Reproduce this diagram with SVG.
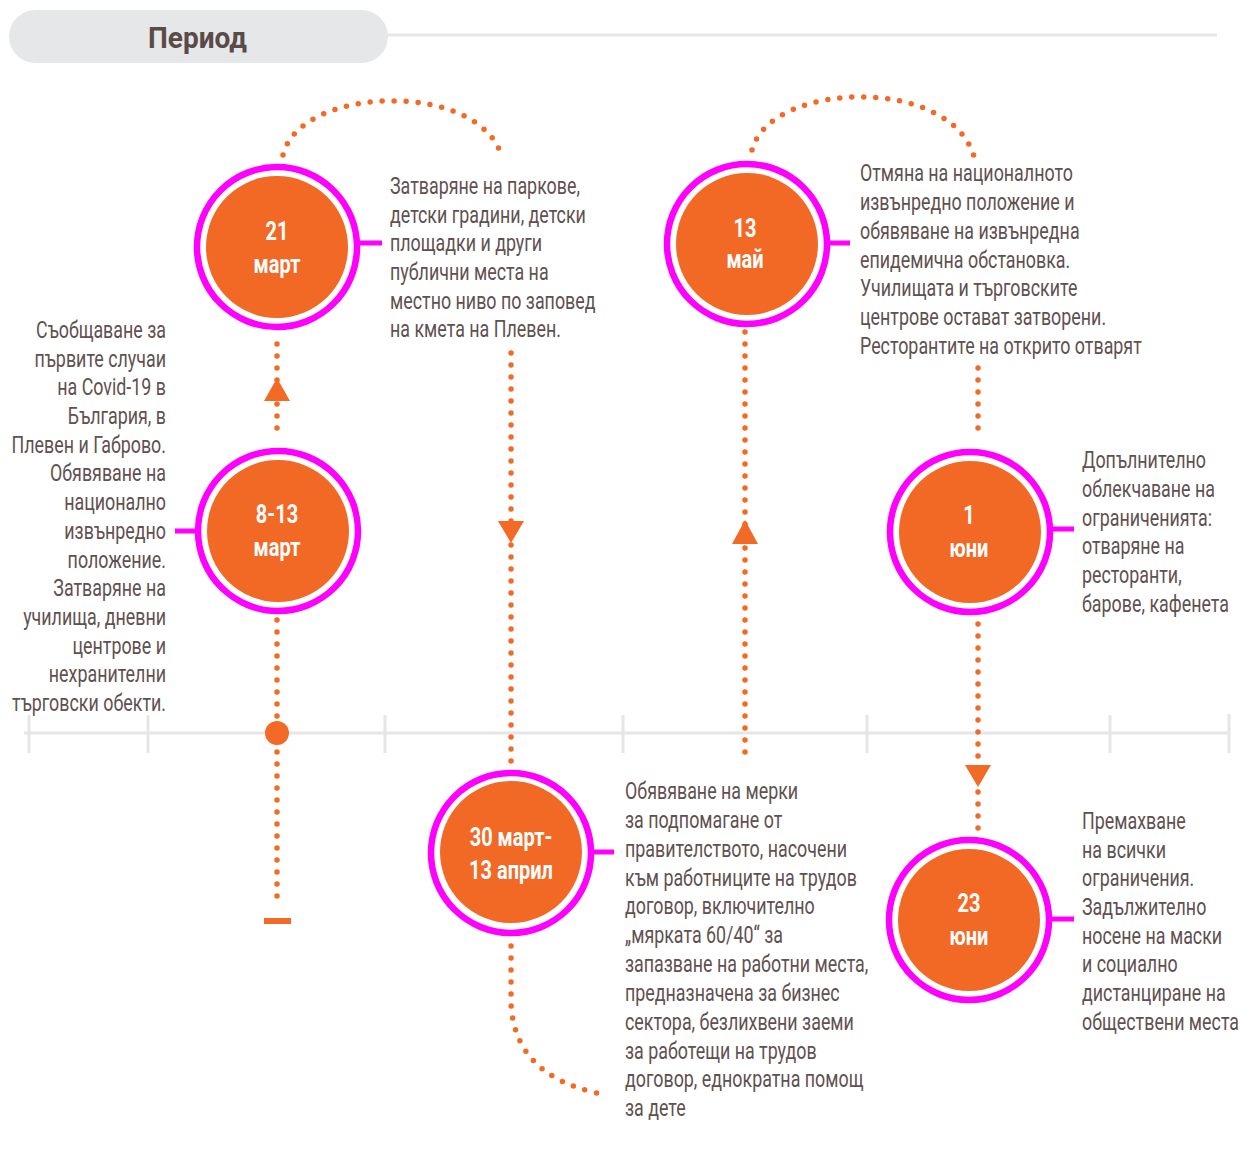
<svg xmlns="http://www.w3.org/2000/svg" width="1240" height="1149" viewBox="0 0 1240 1149">
<style>
.dot{fill:none;stroke:#f26a25;stroke-width:5.5;stroke-linecap:round;stroke-dasharray:0 12}
.ring{fill:#fff;stroke:#ff00ff;stroke-width:6.5}
.core{fill:#f26925}
.mag{stroke:#ff00ff;stroke-width:5;fill:none}
.arr{fill:#f26a25}
.axis{stroke:#e6e6e8;stroke-width:3;fill:none}
.lbl{font-family:Roboto,"Liberation Sans",sans-serif;font-weight:700;font-size:25px;fill:#fff;text-anchor:middle}
.txt{font-family:Roboto,"Liberation Sans",sans-serif;font-size:23.5px;fill:#5f5150}
.end{text-anchor:end}
</style>
<rect width="1240" height="1149" fill="#fff"/>
<g id="header">
<line class="axis" x1="380" y1="35" x2="1217" y2="35"/>
<rect x="9" y="10" width="379" height="53" rx="26.5" fill="#e6e7e8"/>
<text x="148" y="48" font-family="Roboto,'Liberation Sans',sans-serif" font-weight="700" font-size="30" fill="#5a4b48" textLength="99" lengthAdjust="spacingAndGlyphs">Период</text>
</g>
<g id="timeline-axis">
<line class="axis" x1="24" y1="733" x2="1230" y2="733"/>
<path class="axis" d="M29,715V753M148,715V753M385,715V753M623,715V753M867,715V753M1110,715V753M1229,714V753"/>
</g>
<g id="connectors">
<path class="dot" d="M277,344V440"/>
<path class="dot" d="M277,620V908"/>
<circle cx="277" cy="733" r="12" fill="#f26a25"/>
<rect x="264" y="918" width="27" height="6" fill="#f26a25"/>
<polygon class="arr" points="277,378 290,401 264,401"/>
<path class="dot" d="M283,155C300,85 480,80 502,157"/>
<path class="dot" d="M511,353V765"/>
<polygon class="arr" points="498,521 524,521 511,543"/>
<path class="dot" d="M511,946V1004Q515,1075 597,1093"/>
<path class="dot" d="M745,332V764"/>
<polygon class="arr" points="745,520 758,544 732,544"/>
<path class="dot" d="M752,150C770,80 955,75 975,160"/>
<path class="dot" d="M978,368V440"/>
<path class="dot" d="M978,624V836"/>
<polygon class="arr" points="965,765 991,765 978,787"/>
<line class="mag" x1="175" y1="531" x2="197" y2="531"/>
<line class="mag" x1="357" y1="243" x2="382" y2="243"/>
<line class="mag" x1="826" y1="243" x2="850" y2="243"/>
<line class="mag" x1="1050" y1="529" x2="1074" y2="529"/>
<line class="mag" x1="591" y1="852" x2="614" y2="852"/>
<line class="mag" x1="1048" y1="919" x2="1074" y2="919"/>
</g>
<g id="node-21-mart">
<circle class="ring" cx="277" cy="247" r="80"/>
<circle class="core" cx="277" cy="247" r="71"/>
<text class="lbl" transform="translate(277,240) scale(0.8,1)"><tspan x="0" y="0">21</tspan><tspan x="0" y="33">март</tspan></text>
</g>
<g id="node-8-13-mart">
<circle class="ring" cx="278" cy="531" r="80"/>
<circle class="core" cx="278" cy="531" r="71"/>
<text class="lbl" transform="translate(277,523) scale(0.8,1)"><tspan x="0" y="0">8-13</tspan><tspan x="0" y="33">март</tspan></text>
</g>
<g id="node-30-mart">
<circle class="ring" cx="511" cy="853" r="80"/>
<circle class="core" cx="511" cy="852" r="71"/>
<text class="lbl" transform="translate(511,846) scale(0.8,1)"><tspan x="0" y="0">30 март-</tspan><tspan x="0" y="33">13 април</tspan></text>
</g>
<g id="node-13-mai">
<circle class="ring" cx="747" cy="244" r="80"/>
<circle class="core" cx="747" cy="244" r="71"/>
<text class="lbl" transform="translate(745,237) scale(0.8,1)"><tspan x="0" y="0">13</tspan><tspan x="0" y="31">май</tspan></text>
</g>
<g id="node-1-yuni">
<circle class="ring" cx="970" cy="532" r="80"/>
<circle class="core" cx="970" cy="532" r="71"/>
<text class="lbl" transform="translate(969,524) scale(0.8,1)"><tspan x="0" y="0">1</tspan><tspan x="0" y="33">юни</tspan></text>
</g>
<g id="node-23-yuni">
<circle class="ring" cx="969" cy="920" r="80"/>
<circle class="core" cx="969" cy="920" r="71"/>
<text class="lbl" transform="translate(969,912) scale(0.8,1)"><tspan x="0" y="0">23</tspan><tspan x="0" y="33">юни</tspan></text>
</g>
<g id="text-8-13-mart" transform="translate(166,0) scale(0.76,1)">
<text class="txt end"><tspan x="0" y="338">Съобщаване за</tspan><tspan x="0" y="366.7">първите случаи</tspan><tspan x="0" y="395.4">на Covid-19 в</tspan><tspan x="0" y="424.1">България, в</tspan><tspan x="0" y="452.8">Плевен и Габрово.</tspan><tspan x="0" y="481.5">Обявяване на</tspan><tspan x="0" y="510.2">национално</tspan><tspan x="0" y="538.9">извънредно</tspan><tspan x="0" y="567.6">положение.</tspan><tspan x="0" y="596.3">Затваряне на</tspan><tspan x="0" y="625">училища, дневни</tspan><tspan x="0" y="653.7">центрове и</tspan><tspan x="0" y="682.4">нехранителни</tspan><tspan x="0" y="711.1">търговски обекти.</tspan></text>
</g>
<g id="text-21-mart" transform="translate(390,0) scale(0.76,1)">
<text class="txt"><tspan x="0" y="194">Затваряне на паркове,</tspan><tspan x="0" y="222.7">детски градини, детски</tspan><tspan x="0" y="251.4">площадки и други</tspan><tspan x="0" y="280.1">публични места на</tspan><tspan x="0" y="308.8">местно ниво по заповед</tspan><tspan x="0" y="337.5">на кмета на Плевен.</tspan></text>
</g>
<g id="text-13-mai" transform="translate(860,0) scale(0.76,1)">
<text class="txt"><tspan x="0" y="181.5">Отмяна на националното</tspan><tspan x="0" y="210.2">извънредно положение и</tspan><tspan x="0" y="238.9">обявяване на извънредна</tspan><tspan x="0" y="267.6">епидемична обстановка.</tspan><tspan x="0" y="296.3">Училищата и търговските</tspan><tspan x="0" y="325">центрове остават затворени.</tspan><tspan x="0" y="353.7">Ресторантите на открито отварят</tspan></text>
</g>
<g id="text-1-yuni" transform="translate(1082,0) scale(0.76,1)">
<text class="txt"><tspan x="0" y="468">Допълнително</tspan><tspan x="0" y="496.8">облекчаване на</tspan><tspan x="0" y="525.6">ограниченията:</tspan><tspan x="0" y="554.4">отваряне на</tspan><tspan x="0" y="583.2">ресторанти,</tspan><tspan x="0" y="612">барове, кафенета</tspan></text>
</g>
<g id="text-30-mart" transform="translate(625,0) scale(0.76,1)">
<text class="txt"><tspan x="0" y="799">Обявяване на мерки</tspan><tspan x="0" y="827.85">за подпомагане от</tspan><tspan x="0" y="856.7">правителството, насочени</tspan><tspan x="0" y="885.55">към работниците на трудов</tspan><tspan x="0" y="914.4">договор, включително</tspan><tspan x="0" y="943.25">„мярката 60/40“ за</tspan><tspan x="0" y="972.1">запазване на работни места,</tspan><tspan x="0" y="1000.95">предназначена за бизнес</tspan><tspan x="0" y="1029.8">сектора, безлихвени заеми</tspan><tspan x="0" y="1058.65">за работещи на трудов</tspan><tspan x="0" y="1087.5">договор, еднократна помощ</tspan><tspan x="0" y="1116.35">за дете</tspan></text>
</g>
<g id="text-23-yuni" transform="translate(1082,0) scale(0.76,1)">
<text class="txt"><tspan x="0" y="829">Премахване</tspan><tspan x="0" y="857.7">на всички</tspan><tspan x="0" y="886.4">ограничения.</tspan><tspan x="0" y="915.1">Задължително</tspan><tspan x="0" y="943.8">носене на маски</tspan><tspan x="0" y="972.5">и социално</tspan><tspan x="0" y="1001.2">дистанциране на</tspan><tspan x="0" y="1029.9">обществени места</tspan></text>
</g>
</svg>
